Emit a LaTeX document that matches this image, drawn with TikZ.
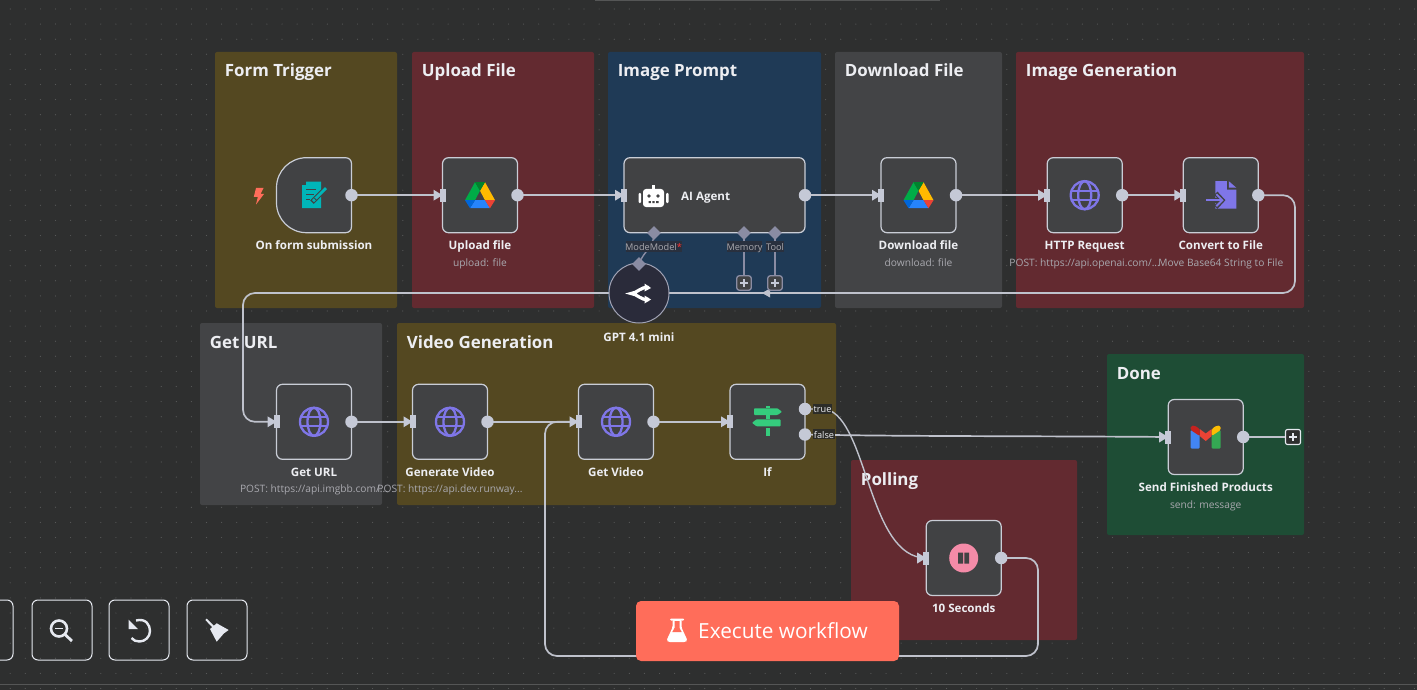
\documentclass[tikz,border=0pt]{standalone}
\usepackage{fontspec}
\setmainfont{Open Sans}
\usetikzlibrary{arrows.meta,calc}
\definecolor{bgc}{HTML}{2E2F2F}
\definecolor{dotc}{HTML}{585959}
\definecolor{nodef}{HTML}{414244}
\definecolor{edge}{HTML}{C9CDD6}
\definecolor{portc}{HTML}{C5C9D6}
\definecolor{wire}{HTML}{BFC2CC}
\definecolor{subc}{HTML}{A9A9AF}
\definecolor{labc}{HTML}{EDEEF2}
\definecolor{yel}{HTML}{544821}
\definecolor{red1}{HTML}{632A30}
\definecolor{blu}{HTML}{1F3A56}
\definecolor{gry}{HTML}{434446}
\definecolor{grn}{HTML}{1E4D35}
\definecolor{violetc}{HTML}{7F76E8}
\definecolor{slate}{HTML}{8A8CA3}
\definecolor{coral}{HTML}{FF6D5A}
\definecolor{uic}{HTML}{E6E9F0}
\definecolor{gptf}{HTML}{2A2B3A}
\definecolor{labbg}{HTML}{29303E}
\definecolor{iflab}{HTML}{2C2C28}
\definecolor{tealc}{HTML}{00B5B8}
\definecolor{chrome}{HTML}{555656}
\definecolor{greensign}{HTML}{35CC7D}
\tikzset{
  x=1pt,y=-1pt,
  sticky/.style={rounded corners=2pt,inner sep=0pt,outer sep=0pt},
  wfnode/.style={draw=edge,fill=nodef,line width=1.2pt,rounded corners=6pt,inner sep=0pt,outer sep=0pt},
  wiring/.style={draw=wire,line width=1.7pt,rounded corners=12pt},
  stitle/.style={font=\fontsize{16.9}{20}\selectfont\bfseries,text=labc,anchor=base west,inner sep=0pt},
  nname/.style={font=\fontsize{11.6}{14}\selectfont\bfseries,text=labc,anchor=base,inner sep=0pt},
  nsub/.style={font=\fontsize{10.2}{12}\selectfont,text=subc,anchor=base,inner sep=0pt},
  plabel/.style={font=\fontsize{9.2}{11}\selectfont,text=subc,anchor=base,inner sep=0pt},
  outport/.style={circle,fill=portc,minimum size=12.5pt,inner sep=0pt},
  inport/.style={fill=portc,minimum width=6pt,minimum height=13pt,inner sep=0pt},
  plusbox/.style={draw=slate,fill=nodef,line width=1.3pt,rounded corners=2.5pt,minimum size=14.5pt,inner sep=0pt},
  uibtn/.style={draw=uic,line width=1pt,rounded corners=6pt,inner sep=0pt},
  dmark/.style={fill=slate,inner sep=0pt,minimum size=9.8pt,rotate=45},
}
\newcommand{\stickybox}[7]{%
  \fill[sticky,fill=#6] (#2,#3) rectangle (#4,#5);
  \node[stitle] (#1) at (#2+9.7,#3+25) {#7};}
\newcommand{\wfbox}[4]{%
  \node[wfnode,minimum width=#4pt,minimum height=75pt] (#1) at (#2,#3) {};}
\newcommand{\inputport}[1]{%
  \fill[portc] ($(#1.west)+(-9,-5.5)$) -- ($(#1.west)+(0,0)$) -- ($(#1.west)+(-9,5.5)$) -- cycle;
  \node[inport] at (#1.west) {};}
\newcommand{\outputport}[1]{\node[outport] (#1o) at (#1.east) {};}
\newcommand{\nlabel}[4]{\node[nname] (#1n) at ($(#1.south)+(#2,17)$) {#3};%
  \if\relax\detokenize{#4}\relax\else\node[nsub] (#1s) at ($(#1.south)+(#2,33.5)$) {#4};\fi}
\newcommand{\globeicon}[1]{%
  \begin{scope}[shift={(#1)},violetc,line width=2.3pt]
    \draw (0,0) circle[radius=14];
    \draw (0,0) ellipse[x radius=6.5,y radius=14];
    \draw (-13,-4.5) -- (13,-4.5);
    \draw (-13,4.5) -- (13,4.5);
  \end{scope}}
\newcommand{\driveicon}[1]{%
  \begin{scope}[shift={(#1)}]
    \fill[color={rgb,255:red,0;green,172;blue,71}] (-5,-13) -- (0,-4.5) -- (-5,5) -- (-15,5) -- cycle;
    \fill[color={rgb,255:red,255;green,186;blue,0}] (5,-13) -- (15,5) -- (5,5) -- (0,-4.5) -- cycle;
    \fill[color={rgb,255:red,0;green,131;blue,45}] (-5,-13) -- (5,-13) -- (0,-4.5) -- cycle;
    \fill[color={rgb,255:red,38;green,132;blue,252}] (-5,5) -- (5,5) -- (10,13) -- (-10,13) -- cycle;
    \fill[color={rgb,255:red,0;green,102;blue,218}] (-15,5) -- (-5,5) -- (-10,13) -- cycle;
    \fill[color={rgb,255:red,234;green,67;blue,53}] (5,5) -- (15,5) -- (10,13) -- cycle;
  \end{scope}}
\begin{document}
\begin{tikzpicture}
\useasboundingbox (0,0) rectangle (1417,690);
\fill[bgc] (0,0) rectangle (1417,690);
\foreach \i in {0,...,93}{\foreach \j in {0,...,45}{%
  \fill[dotc] ({10.2+\i*15.1},{9+\j*15.1}) circle[radius=0.6];}}
\fill[chrome] (595,0) rectangle (940,1.5);
\fill[chrome] (0,684) rectangle (1417,685);
% stickies
\stickybox{s1}{215}{52}{397}{308}{yel}{Form Trigger}
\stickybox{s2}{412}{52}{594}{308}{red1}{Upload File}
\stickybox{s3}{608}{52}{821}{308}{blu}{Image Prompt}
\stickybox{s4}{835}{52}{1002}{308}{gry}{Download File}
\stickybox{s5}{1016}{52}{1304}{308}{red1}{Image Generation}
\stickybox{s6}{200}{323}{382}{505}{gry}{Get URL}
\stickybox{s7}{397}{323}{836}{505}{yel}{Video Generation}
\stickybox{s8}{851}{460}{1077}{640}{red1}{Polling}
\stickybox{s9}{1107}{354}{1304}{535}{grn}{Done}
% nodes
\node[inner sep=0pt,outer sep=0pt,minimum width=75pt,minimum height=75pt] (form) at (314,195.2) {};
\wfbox{upload}{480}{195.2}{75}
\wfbox{agent}{714.5}{195.2}{181}
\wfbox{download}{918.5}{195.2}{75}
\wfbox{http}{1084.7}{195.2}{75}
\wfbox{conv}{1220.8}{195.2}{75}
\wfbox{geturl}{314}{421.8}{75}
\wfbox{genvid}{450}{421.8}{75}
\wfbox{getvid}{616}{421.8}{75}
\wfbox{ifn}{767.5}{421.8}{75}
\wfbox{send}{1205.7}{437}{75}
\wfbox{waitn}{963.7}{558}{75}
\draw[draw=edge,fill=nodef,line width=1.2pt] (345.5,157.7) -- (306.5,157.7)
  .. controls (289.9,157.7) and (276.5,171.1) .. (276.5,187.7) -- (276.5,202.7)
  .. controls (276.5,219.3) and (289.9,232.7) .. (306.5,232.7) -- (345.5,232.7)
  .. controls (349,232.7) and (351.5,230.2) .. (351.5,226.7) -- (351.5,163.7)
  .. controls (351.5,160.2) and (349,157.7) .. (345.5,157.7) -- cycle;
\coordinate (plusin) at (1293,437);
\coordinate (ift) at (805,409);
\coordinate (iff) at (805,434.5);
% connectors
\draw[wiring] (form.east) -- (upload.west);
\draw[wiring] (upload.east) -- (agent.west);
\draw[wiring] (agent.east) -- (download.west);
\draw[wiring] (download.east) -- (http.west);
\draw[wiring] (http.east) -- (conv.west);
\draw[wiring] (geturl.east) -- (genvid.west);
\draw[wiring] (genvid.east) -- (getvid.west);
\draw[wiring] (getvid.east) -- (ifn.west);
\draw[wiring] (conv.east) -- (1295,195.2) -- (1295,293) -- (243,293) -- (243,421.8) -- (geturl.west);
\node[circle,fill=gptf,draw=slate!80!white,line width=1pt,minimum size=60pt,inner sep=0pt] (gpt) at (639,293) {};
\fill[wire] (762,293) -- (770,288.5) -- (770,297.5) -- cycle;
\draw[wire,line width=1.4pt] (ift) -- (826,409) .. controls (868,420) and (868,558) .. (waitn.west);
\draw[wire,line width=1.7pt] (iff) .. controls (900,436.5) and (1050,436) .. (send.west);
\draw[wiring] (waitn.east) -- (1038,558) -- (1038,656) -- (545,656) -- (545,421.8) -- (getvid.west);
\foreach \n in {upload,agent,download,http,conv,geturl,genvid,getvid,ifn,send,waitn}{\inputport{\n}}
\foreach \n in {form,upload,agent,download,http,conv,geturl,genvid,getvid,waitn}{\outputport{\n}}
\node[outport] (iftrue) at (ift) {};
\node[outport] (iffalse) at (iff) {};
% sub-connectors of agent
\coordinate (dmodelc) at (654,233);
\coordinate (dmemc) at (744,233);
\coordinate (dtoolc) at (775,233);
\coordinate (dgptc) at (639,264);
\node[plusbox] (plusmem) at (744,283) {};
\node[plusbox] (plustool) at (775,283) {};
\draw[slate,line width=1.4pt] (dmemc) -- (plusmem.north);
\draw[slate,line width=1.4pt] (dtoolc) -- (plustool.north);
\draw[slate,line width=1.4pt] (dmodelc) .. controls (654,248) and (644,250) .. (dgptc);
\node[dmark] (dmodel) at (dmodelc) {};
\node[dmark] (dmem) at (dmemc) {};
\node[dmark] (dtool) at (dtoolc) {};
\node[dmark] (dgpt) at (dgptc) {};
\foreach \p in {744,775}{\draw[portc,line width=1.3pt] (\p-4,283) -- (\p+4,283) (\p,279) -- (\p,287);}
\fill[labbg] (625.5,240.5) rectangle (681.5,251.5);
\node[plabel] (lm) at (653.5,250) {ModeModel\textcolor{red!80!white}{*}};
\fill[labbg] (727,240.5) rectangle (762,251.5);
\node[plabel] (lmm) at (744.5,250) {Memory};
\fill[labbg] (766,240.5) rectangle (784,251.5);
\node[plabel] (lt) at (775,250) {Tool};
% labels
\nlabel{form}{0}{On form submission}{}
\nlabel{upload}{0}{Upload file}{upload: file}
\nlabel{download}{0}{Download file}{download: file}
\nlabel{http}{0}{HTTP Request}{POST: https://api.openai.com/...}
\nlabel{conv}{0}{Convert to File}{Move Base64 String to File}
\nlabel{geturl}{0}{Get URL}{POST: https://api.imgbb.com/...}
\nlabel{genvid}{0}{Generate Video}{POST: https://api.dev.runway...}
\nlabel{getvid}{0}{Get Video}{}
\nlabel{ifn}{0}{If}{}
\nlabel{send}{0}{Send Finished Products}{send: message}
\nlabel{waitn}{0}{10 Seconds}{}
\node[nname,anchor=base west] (agentn) at (681,200.5) {AI Agent};
\node[nname] (gptn) at (639,341) {GPT 4.1 mini};
% if labels
\fill[iflab] (813,404) rectangle (832,414);
\fill[iflab] (813,429) rectangle (835,439);
\node[plabel,text=labc] (tl) at (822.5,412.5) {true};
\node[plabel,text=labc] (fl) at (824,438) {false};
% send plus
\node[draw=uic,fill=bgc,line width=1.1pt,rounded corners=2pt,minimum size=15pt,inner sep=0pt] (plussend) at (plusin) {};
\draw[wire,line width=1.7pt] (send.east) -- (plussend.west);
\draw[uic,line width=1.2pt] (1289,437) -- (1297,437) (1293,433) -- (1293,441);
\node[outport] (sendo) at (send.east) {};
% icons
\fill[coral] (256,188) -- (263.5,188) -- (260.5,194) -- (264,194) -- (256,204.5) -- (257.8,197) -- (253.8,197) -- cycle;
\begin{scope}[shift={(313,195.2)}]
 \fill[tealc] (-11,-10) -- (-7,-10) -- (-7,-13.5) -- (8,-13.5) -- (8,13) -- (-11,13) -- cycle;
 \draw[nodef,line width=1.3pt] (-7,-6) -- (3,-6) (-7,-1) -- (1,-1) (-7,4) -- (-3,4);
 \draw[nodef,line width=5pt] (-1,7) -- (11,-5);
 \draw[tealc,line width=2.8pt] (0,6) -- (13,-7);
 \draw[nodef,line width=0.9pt] (1.5,3) -- (4,5.5);
\end{scope}
\driveicon{480,195.2}
\driveicon{918.5,195.2}
\begin{scope}[shift={(653.5,196)}]
 \fill[white] (-1.5,-11) rectangle (1.5,-7);
 \fill[white,rounded corners=3pt] (-10.5,-7) rectangle (10.5,11);
 \fill[white,rounded corners=1pt] (-15,-3) rectangle (-12.5,7);
 \fill[white,rounded corners=1pt] (12.5,-3) rectangle (15,7);
 \fill[nodef] (-4.5,0) circle[radius=1.8] (4.5,0) circle[radius=1.8];
 \fill[nodef] (-5,5) rectangle (-2.7,7) (-1.1,5) rectangle (1.1,7) (2.7,5) rectangle (5,7);
\end{scope}
\globeicon{1084.7,195.2}
\globeicon{314,421.8}
\globeicon{450,421.8}
\globeicon{616,421.8}
\begin{scope}[shift={(1220.8,195.2)}]
 \fill[violetc] (-5.5,-14) -- (6,-14) -- (6,-5.5) -- (15.5,-5.5) -- (15.5,13.5) -- (-5.5,13.5) -- cycle;
 \fill[violetc] (8,-14) -- (15.5,-7.5) -- (8,-7.5) -- cycle;
 \draw[nodef,line width=4.6pt] (-7,5) -- (1,5);
 \draw[nodef,line width=4.6pt] (-5,-2) -- (1.5,5) -- (-5,12);
 \draw[violetc,line width=1.8pt] (-15,5) -- (1,5);
 \draw[violetc,line width=1.8pt] (-4.5,-1) -- (1.5,5) -- (-4.5,11);
\end{scope}
\begin{scope}[shift={(767.5,421.8)}]
 \fill[greensign] (-2,-16) rectangle (2,-13.5);
 \fill[greensign,rounded corners=0.8pt] (-13.5,-13.5) -- (10,-13.5) -- (14.5,-10) -- (10,-6.8) -- (-13.5,-6.8) -- cycle;
 \fill[greensign] (-2,-6.8) rectangle (2,-2.5);
 \fill[greensign,rounded corners=0.8pt] (13,-2.5) -- (-11,-2.5) -- (-15.5,1) -- (-11,4.5) -- (13,4.5) -- cycle;
 \fill[greensign] (-2,6.5) rectangle (2,14.5);
\end{scope}
\begin{scope}[shift={(1205.7,437)}]
 \fill[color={rgb,255:red,66;green,133;blue,244},rounded corners=1pt] (-15,-7) -- (-6,-2) -- (-6,11.5) -- (-15,11.5) -- cycle;
 \fill[color={rgb,255:red,52;green,168;blue,83},rounded corners=1pt] (15,-7) -- (6,-2) -- (6,11.5) -- (15,11.5) -- cycle;
 \fill[color={rgb,255:red,234;green,67;blue,53}] (-6,-8) -- (0,-3.5) -- (6,-8) -- (6,-1) -- (0,4) -- (-6,-1) -- cycle;
 \fill[color={rgb,255:red,197;green,34;blue,31},rounded corners=1.5pt] (-15,-11) -- (-11,-11.5) -- (-6,-8) -- (-6,-1) -- (-15,-7) -- cycle;
 \fill[color={rgb,255:red,251;green,188;blue,4},rounded corners=1.5pt] (15,-11) -- (11,-11.5) -- (6,-8) -- (6,-1) -- (15,-7) -- cycle;
\end{scope}
\begin{scope}[shift={(963.7,558)}]
 \fill[color={rgb,255:red,244;green,139;blue,168}] (0,0) circle[radius=14.5];
 \fill[nodef] (-5.5,-5.5) rectangle (-0.6,5.5) (0.6,-5.5) rectangle (5.5,5.5);
\end{scope}
\draw[white,line width=3.2pt] (649,287.5) .. controls (640,286.5) and (638,293) .. (631,293.5) .. controls (638,294) and (640,300.5) .. (649,299.5);
\fill[white] (651,288) -- (644.5,283.5) -- (644.5,291.5) -- cycle;
\fill[white] (651,299.5) -- (644.5,295.5) -- (644.5,303.5) -- cycle;
% execute button
\node[fill=coral,rounded corners=5pt,minimum width=263pt,minimum height=60pt,inner sep=0pt] (exec) at (767.5,631) {};
\node[font=\fontsize{20.8}{22}\selectfont,text=white,anchor=base west,inner sep=0pt] (exect) at (698,638) {Execute workflow};
\begin{scope}[shift={(677,630.5)}]
 \fill[white,rounded corners=1pt] (-7,-12) rectangle (7,-10);
 \fill[white,rounded corners=1.5pt] (-4.5,-11) -- (4.5,-11) -- (4.5,-3) -- (10.5,10) -- (8.5,11.5) -- (-8.5,11.5) -- (-10.5,10) -- (-4.5,-3) -- cycle;
 \fill[coral] (-2.5,-9.5) -- (2.5,-9.5) -- (2.5,-2.5) -- (4.7,1.5) -- (-4.7,1.5) -- (-2.5,-2.5) -- cycle;
\end{scope}
% bottom-left buttons
\node[uibtn,minimum width=60pt,minimum height=60pt] (b0) at (-17,630) {};
\node[uibtn,minimum width=60pt,minimum height=60pt] (b1) at (62,630) {};
\node[uibtn,minimum width=60pt,minimum height=60pt] (b2) at (139,630) {};
\node[uibtn,minimum width=60pt,minimum height=60pt] (b3) at (217,630) {};
\draw[uic,line width=2.6pt] (59,628.5) circle[radius=8];
\draw[uic,line width=1.8pt] (55,628.5) -- (63,628.5);
\draw[uic,line width=2.8pt] (65,634.5) -- (72,641);
\draw[uic,line width=2.4pt] (136,620.5) .. controls (146,618) and (150,625) .. (150,631) .. controls (150,637) and (145,641.5) .. (139.5,641.5) .. controls (136,641.5) and (133.5,640.5) .. (131.5,638);
\fill[uic] (128.5,619.5) -- (128.5,629) -- (138,629) -- cycle;
\begin{scope}[shift={(217,630)}]
 \draw[uic,line width=2pt] (-11,-10.7) -- (-3.7,-3.3);
 \fill[uic] (-7,-1) -- (-0.3,-6.7) -- (11.7,0) -- (7,3.3) -- (-0.3,11.7) -- cycle;
\end{scope}
\end{tikzpicture}
\end{document}
